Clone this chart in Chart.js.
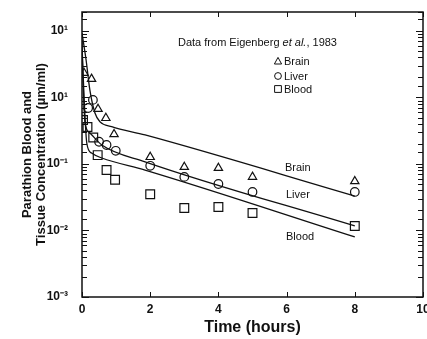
<!DOCTYPE html>
<html>
<head>
<meta charset="utf-8">
<script src="https://cdn.jsdelivr.net/npm/chart.js@4.4.1/dist/chart.umd.min.js"></script>
<style>
  html, body { margin: 0; padding: 0; background: #fff; }
  #wrap { width: 427px; height: 339px; }
</style>
</head>
<body>
<div id="wrap"><canvas id="graph"></canvas></div>
<script>
// measured points (time in hours, concentration)
const brainTimes = [0.06, 0.28, 0.47, 0.7, 0.94, 2, 3, 4, 5, 8];
const brainConc = [2.33, 1.9, 0.67, 0.49, 0.28, 0.127, 0.09, 0.087, 0.064, 0.055];
const liverTimes = [0.18, 0.32, 0.5, 0.72, 0.99, 2, 3, 4, 5, 8];
const liverConc = [0.695, 0.92, 0.216, 0.193, 0.158, 0.094, 0.064, 0.05, 0.038, 0.038];
const bloodTimes = [0.03, 0.16, 0.33, 0.46, 0.72, 0.97, 2, 3, 4, 5, 8];
const bloodConc = [0.46, 0.36, 0.25, 0.136, 0.081, 0.058, 0.035, 0.0218, 0.0225, 0.0183, 0.0117];

// fitted curves
const brainFitTimes = [0, 0.12, 0.23, 0.38, 0.53, 0.87, 1.85, 8];
const brainFitConc = [9.3, 3.66, 1.3, 0.585, 0.43, 0.364, 0.273, 0.033];
const liverFitTimes = [0, 0.04, 0.09, 0.23, 0.58, 1.85, 8];
const liverFitConc = [7.3, 1.3, 0.414, 0.292, 0.193, 0.108, 0.0117];
const bloodFitTimes = [0, 0.14, 0.28, 0.58, 1.85, 8];
const bloodFitConc = [5.2, 0.207, 0.146, 0.123, 0.081, 0.008];

// axis ticks
const xTickValues = [0, 2, 4, 6, 8, 10];
const yTickValues = [0.001, 0.01, 0.1, 1, 10];
const yTickLabels = ["10\u207B\u00B3", "10\u207B\u00B2", "10\u207B\u00B9", "10\u00B9", "10\u00B9"];

const seriesNames = ["Brain", "Liver", "Blood"];
const FONT = "'Liberation Sans', Arial, Helvetica, sans-serif";
const NO_PAD = { left: 0, top: 0, right: 0, bottom: 0 };

function toPoints(xs, ys) {
  return xs.map((x, i) => ({ x: x, y: ys[i] }));
}

function markerDataset(label, style, radius, xs, ys) {
  return {
    label: label,
    data: toPoints(xs, ys),
    showLine: false,
    pointStyle: style,
    pointRadius: radius,
    pointBorderWidth: 1.2,
    pointBorderColor: "#111",
    pointBackgroundColor: "rgba(255,255,255,0)",
  };
}

function fitDataset(label, xs, ys) {
  return {
    label: label,
    data: toPoints(xs, ys),
    showLine: true,
    borderColor: "#111",
    borderWidth: 1.3,
    pointRadius: 0,
    cubicInterpolationMode: "monotone",
  };
}

function isDecade(v) {
  const l = Math.log10(v);
  return Math.abs(l - Math.round(l)) < 1e-6;
}

// box, inward ticks, annotation texts
const framePlugin = {
  id: "frame",
  afterDraw(chart) {
    const ctx = chart.ctx;
    const { left, right, top, bottom } = chart.chartArea;
    const xs = chart.scales.x;
    const ys = chart.scales.y;
    ctx.save();
    ctx.strokeStyle = "#111";
    ctx.lineWidth = 1.5;
    ctx.strokeRect(left, top, right - left, bottom - top);

    ctx.lineWidth = 1;
    ctx.beginPath();
    xTickValues.forEach((v) => {
      const px = Math.round(xs.getPixelForValue(v)) + 0.5;
      ctx.moveTo(px, bottom);
      ctx.lineTo(px, bottom - 5);
      ctx.moveTo(px, top);
      ctx.lineTo(px, top + 5);
    });
    ys.ticks.forEach((t) => {
      const v = t.value;
      if (v < ys.min || v > ys.max) return;
      const py = Math.round(ys.getPixelForValue(v)) + 0.5;
      const len = isDecade(v) ? 7 : 5;
      ctx.moveTo(left, py);
      ctx.lineTo(left + len, py);
      ctx.moveTo(right, py);
      ctx.lineTo(right - len, py);
    });
    ctx.stroke();

    // source note with italic "et al."
    ctx.fillStyle = "#111";
    ctx.textBaseline = "middle";
    ctx.textAlign = "left";
    let tx = 178;
    const ty = 43;
    const parts = [
      ["Data from Eigenberg ", "11px " + FONT],
      ["et al.", "italic 11px " + FONT],
      [", 1983", "11px " + FONT],
    ];
    parts.forEach(([s, f]) => {
      ctx.font = f;
      ctx.fillText(s, tx, ty);
      tx += ctx.measureText(s).width;
    });

    // legend
    const legendRows = [61, 76, 89];
    ctx.font = "11px " + FONT;
    ctx.lineWidth = 1;
    legendRows.forEach((ry, i) => {
      const sx = 278;
      ctx.beginPath();
      if (i === 0) {
        ctx.moveTo(sx, ry - 3.6);
        ctx.lineTo(sx + 3.6, ry + 3);
        ctx.lineTo(sx - 3.6, ry + 3);
        ctx.closePath();
      } else if (i === 1) {
        ctx.arc(sx, ry, 3.4, 0, Math.PI * 2);
      } else {
        ctx.rect(sx - 3.4, ry - 3.4, 6.8, 6.8);
      }
      ctx.stroke();
      ctx.fillText(seriesNames[i], 284, ry + 0.5);
    });

    // curve labels
    const curveLabels = [[285, 168], [286, 195], [286, 237]];
    curveLabels.forEach(([lx, ly], i) => {
      ctx.fillText(seriesNames[i], lx, ly);
    });
    ctx.restore();
  },
};

const ctx = document.getElementById("graph");

new Chart(ctx, {
  type: "scatter",
  data: {
    datasets: [
      fitDataset("Brain fit", brainFitTimes, brainFitConc),
      fitDataset("Liver fit", liverFitTimes, liverFitConc),
      fitDataset("Blood fit", bloodFitTimes, bloodFitConc),
      markerDataset("Brain", "triangle", 4.8, brainTimes, brainConc),
      markerDataset("Liver", "circle", 4.3, liverTimes, liverConc),
      markerDataset("Blood", "rect", 6.2, bloodTimes, bloodConc),
    ],
  },
  options: {
    responsive: true,
    maintainAspectRatio: false,
    animation: false,
    layout: { autoPadding: false, padding: { left: 0, right: 4, top: 12, bottom: 0 } },
    plugins: {
      legend: { display: false },
      tooltip: { enabled: false },
    },
    scales: {
      x: {
        type: "linear",
        min: 0,
        max: 10,
        grid: { display: false, drawTicks: false },
        border: { display: false },
        afterBuildTicks(scale) {
          scale.ticks = xTickValues.map((v) => ({ value: v }));
        },
        ticks: {
          color: "#111",
          padding: 5,
          maxRotation: 0,
          autoSkip: false,
          font: { family: FONT, size: 12, weight: "bold" },
        },
        title: {
          display: true,
          text: "Time (hours)",
          color: "#111",
          padding: { top: 1, bottom: 2 },
          font: { family: FONT, size: 16, weight: "bold" },
        },
        afterFit(scale) {
          scale.height = 42;
          scale.paddingLeft = 0;
          scale.paddingRight = 0;
          scale.getPadding = () => NO_PAD;
        },
      },
      y: {
        type: "logarithmic",
        min: 0.001,
        max: 19.3,
        grid: { display: false, drawTicks: false },
        border: { display: false },
        ticks: {
          color: "#111",
          padding: 14,
          autoSkip: false,
          font: { family: FONT, size: 12, weight: "bold" },
          callback(value) {
            const i = yTickValues.findIndex((v) => Math.abs(v - value) / v < 1e-6);
            return i >= 0 ? yTickLabels[i] : "";
          },
        },
        title: {
          display: true,
          text: ["Parathion Blood and", "Tissue Concentration (\u00B5m/ml)"],
          color: "#111",
          padding: { top: 20, bottom: 0 },
          font: { family: FONT, size: 13, weight: "bold", lineHeight: 1.1 },
        },
        afterFit(scale) {
          scale.width = 82;
          scale.paddingTop = 0;
          scale.paddingBottom = 0;
          scale.getPadding = () => NO_PAD;
        },
      },
    },
  },
  plugins: [framePlugin],
});
</script>
</body>
</html>
